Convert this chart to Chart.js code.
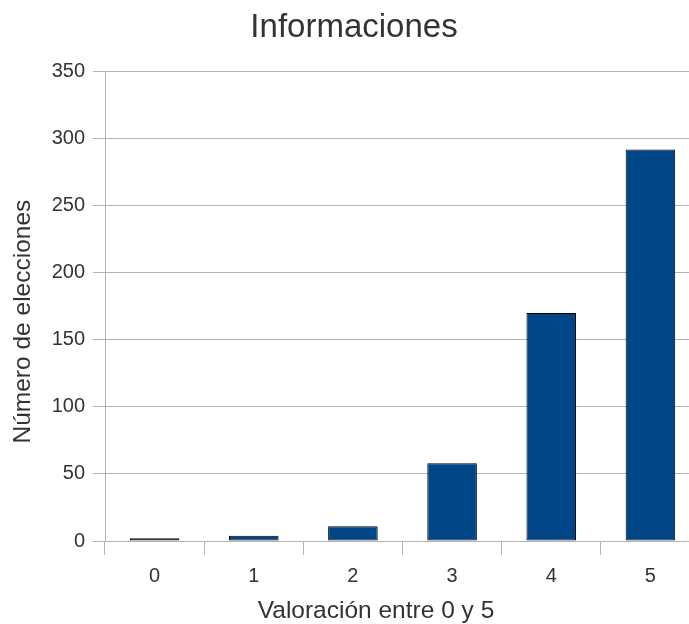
<!DOCTYPE html>
<html>
<head>
<meta charset="utf-8">
<script src="https://cdn.jsdelivr.net/npm/chart.js@4"></script>
<style>
  html, body { margin: 0; padding: 0; background: #fff; overflow: hidden; }
  #wrap { width: 700px; height: 624px; }
</style>
</head>
<body>
<div id="wrap"><canvas id="chart" width="700" height="624"></canvas></div>
<script>
const categories = ['0', '1', '2', '3', '4', '5'];
const values = [2, 4, 11, 58, 170, 292];
const yTicks = [0, 50, 100, 150, 200, 250, 300, 350];
const xTitle = 'Valoración entre 0 y 5';
const yTitle = 'Número de elecciones';

const FONT = '"Liberation Sans", Arial, sans-serif';
Chart.defaults.font.family = FONT;
Chart.defaults.color = '#333333';

// axis titles are placed like the original (not centred on the plot area)
const axisTitles = {
  id: 'axisTitles',
  afterDraw(chart) {
    const ctx = chart.ctx;
    const area = chart.chartArea;
    ctx.save();
    ctx.fillStyle = '#333333';
    ctx.font = '24.5px ' + FONT;
    ctx.textAlign = 'center';
    ctx.textBaseline = 'middle';
    ctx.fillText(xTitle, area.left + 271, 611);
    ctx.translate(23, area.top + 250);
    ctx.rotate(-Math.PI / 2);
    ctx.fillText(yTitle, 0, 0);
    ctx.restore();
  }
};

new Chart(document.getElementById('chart'), {
  type: 'bar',
  data: {
    labels: categories,
    datasets: [{
      label: 'Informaciones',
      data: values,
      backgroundColor: '#004586',
      borderColor: '#000000',
      borderWidth: 1,
      borderSkipped: false,
      barPercentage: 0.5,
      categoryPercentage: 1.0
    }]
  },
  plugins: [axisTitles],
  options: {
    responsive: false,
    animation: false,
    layout: { padding: { left: 8, right: 0, top: 0, bottom: 0 } },
    plugins: {
      legend: { display: false },
      tooltip: { enabled: false },
      title: {
        display: true,
        text: 'Informaciones',
        color: '#333333',
        font: { size: 33, weight: 'normal' },
        padding: { top: 8, bottom: 24 }
      }
    },
    scales: {
      x: {
        offset: true,
        grid: {
          offset: true,
          drawOnChartArea: false,
          drawTicks: true,
          tickLength: 14,
          color: '#b3b3b3'
        },
        border: { color: '#b3b3b3' },
        ticks: { font: { size: 20 }, padding: 9, color: '#333333' },
        afterFit: s => { s.height = 83; }
      },
      y: {
        min: 0,
        max: 350,
        afterBuildTicks: s => { s.ticks = yTicks.map(v => ({ value: v })); },
        grid: {
          color: '#b3b3b3',
          tickLength: 12,
          drawTicks: true
        },
        border: { color: '#b3b3b3' },
        ticks: { font: { size: 20 }, padding: 8, color: '#333333' },
        afterFit: s => { s.width = 97; }
      }
    }
  }
});
</script>
</body>
</html>
